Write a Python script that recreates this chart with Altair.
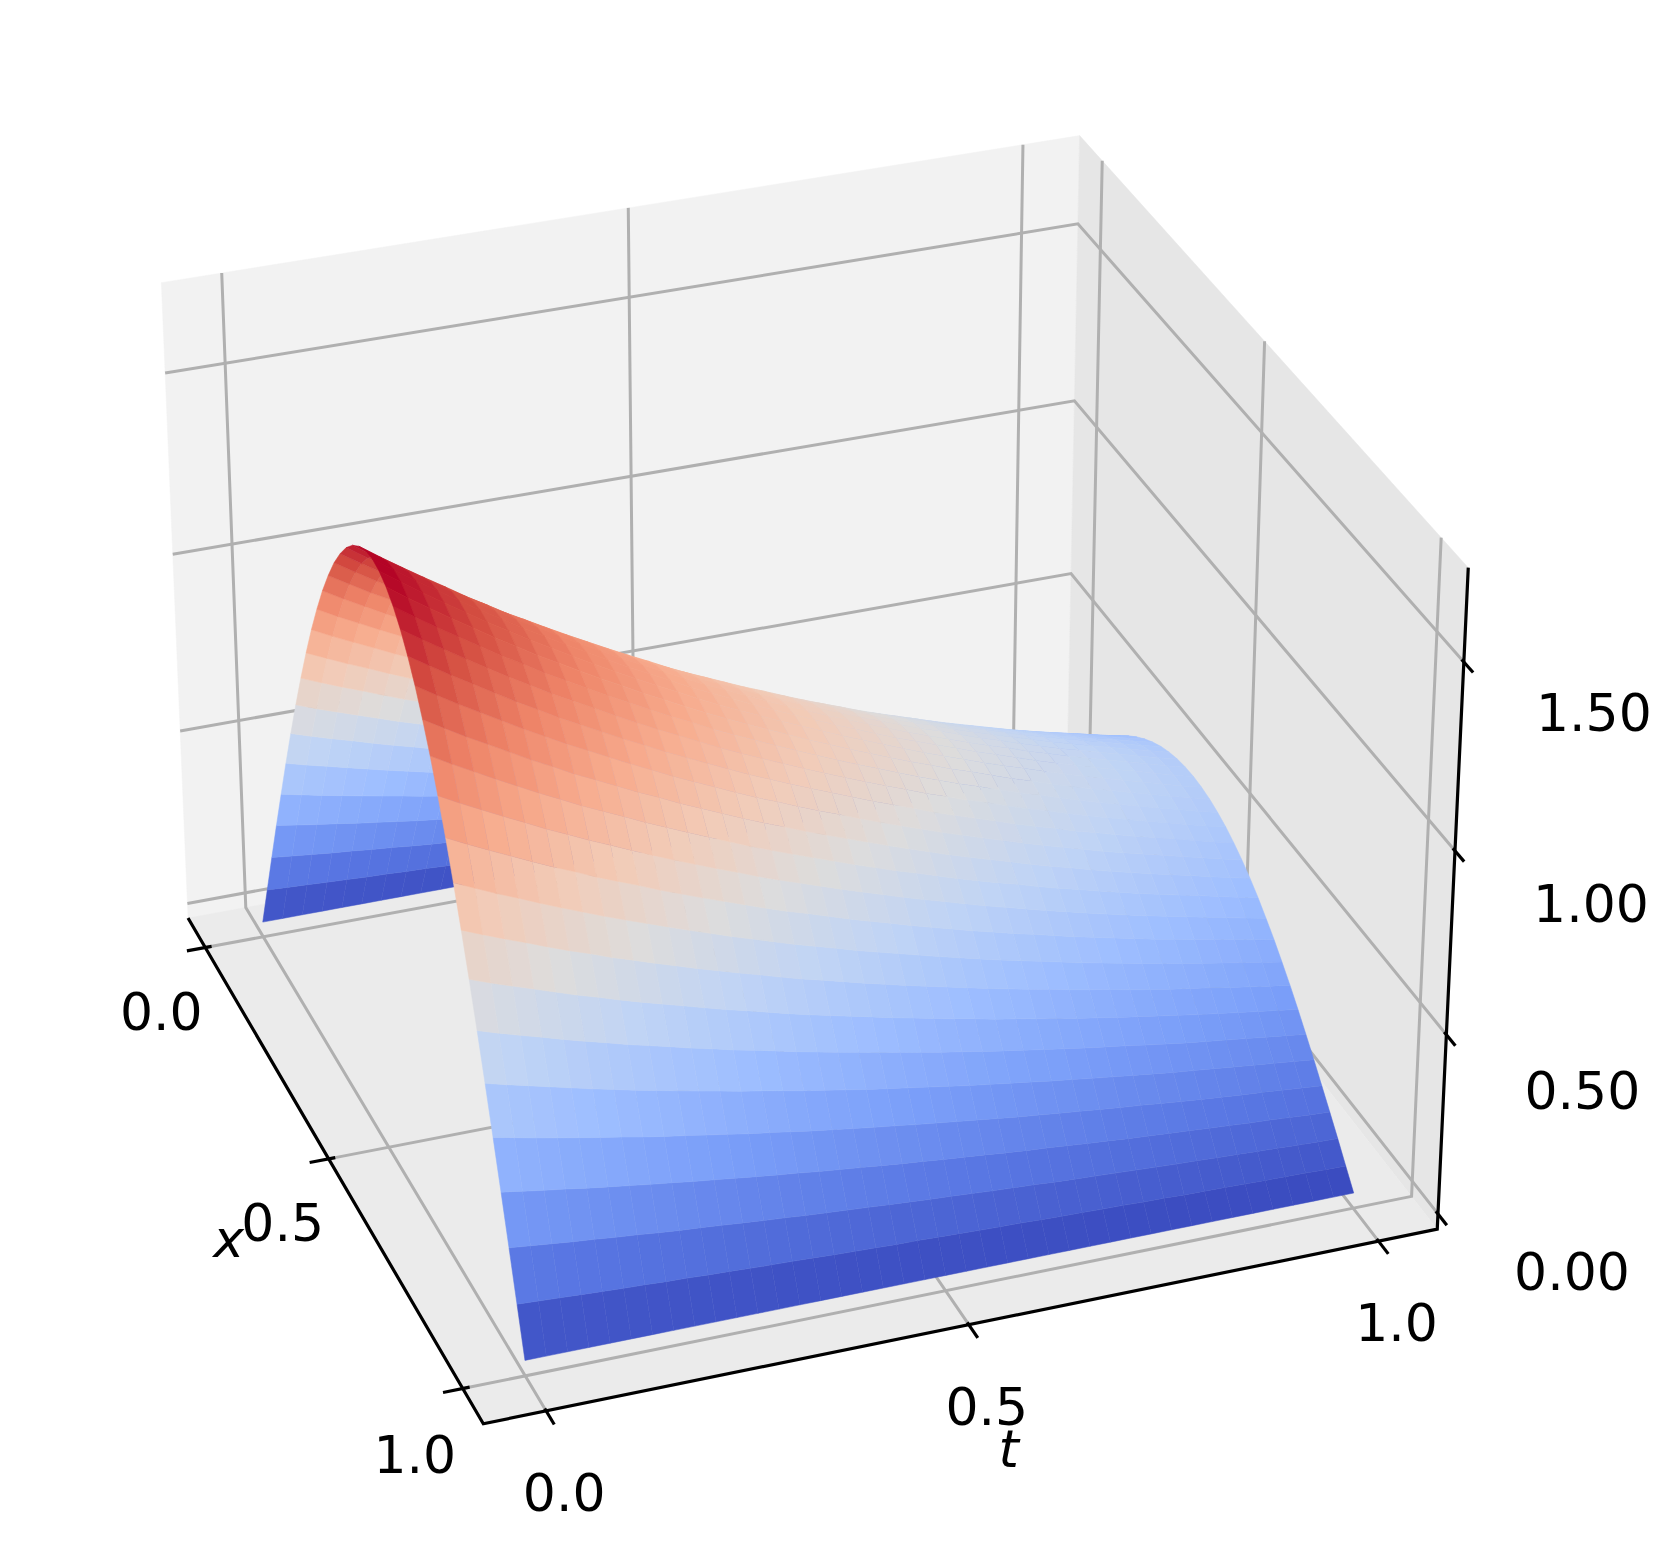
import altair as alt
import numpy as np
import pandas as pd

# ---- data ----
x_grid = [i / 40 for i in range(41)]
t_grid = [j / 40 for j in range(41)]
half_rows = [
    [0]*41,
    [123,120,117,114,111,108,106,103,101,98,96,93,91,89,87,84,82,80,78,77,75,73,71,69,68,66,64,63,61,60,58,57,55,54,53,51,50,49,48,46,45],
    [246,240,234,228,223,217,212,206,201,197,192,187,182,178,173,169,165,161,157,153,149,146,142,138,135,132,128,125,122,119,116,113,110,108,105,103,100,98,95,93,91],
    [367,358,349,341,332,324,316,308,301,293,286,279,272,265,259,252,246,240,234,228,223,217,212,207,201,196,192,187,182,178,173,169,165,161,157,153,149,146,142,138,135],
    [485,473,461,450,439,428,418,407,397,388,378,369,359,351,342,333,325,317,309,302,294,287,280,273,266,259,253,247,241,235,229,224,218,212,207,202,197,193,188,183,178],
    [601,586,572,558,544,530,517,504,492,480,468,457,445,435,424,413,403,393,383,374,365,356,347,338,330,322,314,306,299,291,284,277,270,263,257,251,245,239,233,227,221],
    [713,695,678,662,645,629,614,598,584,570,555,542,528,516,503,490,478,466,455,443,433,422,411,401,391,381,372,363,354,345,337,329,320,312,304,297,290,283,276,269,262],
    [821,800,781,762,743,724,707,689,672,656,640,624,608,594,579,564,550,537,524,511,498,486,474,462,451,439,429,418,408,397,388,378,369,360,351,342,334,326,318,310,302],
    [923,900,878,857,835,814,795,774,756,737,719,701,684,667,651,634,618,604,589,574,560,546,533,520,507,494,482,470,459,447,436,426,414,404,394,385,376,366,357,348,340],
    [1020,995,970,947,923,900,878,856,835,815,795,775,756,737,719,701,683,667,651,634,619,604,589,574,560,546,532,519,507,494,481,470,458,447,436,425,415,405,395,385,375],
    [1111,1083,1057,1031,1005,980,957,932,910,888,865,844,823,803,783,763,744,727,709,691,674,658,641,625,610,594,580,565,552,538,524,512,499,487,474,463,452,441,430,419,409],
    [1194,1164,1136,1108,1081,1053,1028,1002,978,954,930,907,885,863,842,820,800,781,762,743,725,707,689,672,656,639,623,608,593,578,564,550,536,523,510,498,486,474,462,450,439],
    [1271,1239,1209,1179,1150,1121,1094,1066,1041,1016,990,966,942,919,896,873,852,831,811,791,771,752,733,716,698,680,663,647,632,615,600,586,571,557,543,530,517,505,492,479,468],
    [1339,1306,1273,1243,1212,1181,1153,1123,1097,1070,1043,1018,992,968,944,920,897,876,854,833,813,793,773,754,735,716,699,682,665,648,632,617,601,586,572,558,545,532,518,505,493],
    [1400,1365,1331,1299,1267,1235,1205,1175,1147,1119,1091,1064,1037,1012,987,962,938,916,893,871,850,829,808,788,769,749,731,713,696,678,661,645,629,613,598,584,570,556,542,528,515],
    [1451,1415,1380,1347,1313,1280,1249,1217,1188,1159,1130,1103,1075,1049,1023,997,972,949,926,903,881,859,837,817,797,776,757,739,721,702,685,669,651,636,620,605,591,576,562,547,534],
    [1494,1457,1421,1386,1352,1318,1286,1253,1224,1194,1164,1135,1107,1080,1053,1026,1001,977,953,929,907,884,862,841,820,799,780,760,743,723,705,689,671,654,638,623,608,593,578,563,550],
    [1527,1489,1452,1417,1382,1347,1315,1281,1251,1220,1190,1161,1132,1104,1077,1049,1023,999,974,950,927,904,881,860,838,817,797,777,759,739,721,704,686,669,652,637,621,606,591,576,562],
    [1551,1512,1475,1439,1404,1368,1335,1301,1270,1239,1208,1179,1149,1121,1093,1066,1039,1014,990,965,941,918,895,873,851,830,810,789,771,751,732,715,696,679,662,647,631,616,600,585,571],
    [1566,1527,1489,1453,1417,1381,1348,1314,1283,1251,1220,1190,1160,1132,1104,1076,1049,1024,999,974,951,927,904,882,860,838,817,797,778,758,739,722,703,686,669,653,637,622,606,590,576],
    [1571,1532,1494,1458,1422,1386,1353,1318,1287,1255,1224,1194,1164,1136,1108,1079,1053,1027,1002,977,954,930,906,884,862,840,820,800,781,760,742,724,705,688,671,655,639,624,608,592,578],
]
u_rows = half_rows + half_rows[-2::-1]
x_ticks = [0.0, 0.5, 1.0]
t_ticks = [0.0, 0.5, 1.0]
z_ticks = [0.0, 0.5, 1.0, 1.5]
z_labels = ["0.00", "0.50", "1.00", "1.50"]
coolwarm = ['#3b4cc0','#5977e3','#7b9ff9','#9ebeff','#c0d4f5','#dddcdc','#f2cbb7','#f7ac8e','#ee8468','#d44e41','#b40426']

# ---- camera: pinhole fitted to the box corners and ticks ----
xa, xb, ta, tb, za, zb = -0.073, 1.073, -0.073, 1.073, -0.043, 1.745
camera_fit = [
    ((xa,ta,za),(188,917)), ((xb,ta,za),(483,1424)), ((xb,tb,za),(1438,1228)),
    ((xb,tb,zb),(1468,567)), ((xa,tb,zb),(1080,136)), ((xa,ta,zb),(162,283)),
    ((0,ta,za),(205,947)), ((1,ta,za),(463,1388)), ((xb,0,za),(545,1408)), ((xb,1,za),(1377,1237)),
    ((xb,tb,0),(1439,1213)), ((xb,tb,.5),(1447,1038)), ((xb,tb,1),(1455,853)), ((xb,tb,1.5),(1464,662)),
    ((xa,ta,.5),(180,731)), ((xa,tb,.5),(1070,574)), ((xa,ta,1),(173,553)), ((xa,tb,1),(1075,400)),
    ((xa,ta,1.5),(166,371)), ((xa,tb,1.5),(1078,222)), ((xa,0,zb),(221,274)), ((xa,1,zb),(1022,145)),
    ((0,tb,zb),(1102,162)), ((1,tb,zb),(1441,537)),
    ((0,0,0),(263,924)), ((1,0,0),(525,1362)), ((1,1,0),(1354,1194)),
    ((0,0,0),(263,924)), ((1,0,0),(525,1362)), ((1,1,0),(1354,1194)),
]
rows = []
for (X, T, Z), (u, v) in camera_fit:
    rows.append([X,T,Z,1,0,0,0,0,-u*X,-u*T,-u*Z,-u])
    rows.append([0,0,0,0,X,T,Z,1,-v*X,-v*T,-v*Z,-v])
P = np.linalg.svd(np.array(rows, float))[2][-1].reshape(3, 4)
C = np.linalg.svd(P)[2][-1]
C = C[:3] / C[3]

def project(X, T, Z):
    h = P @ np.array([X, T, Z, 1.0])
    return float(h[0] / h[2]), float(h[1] / h[2])

def path(rows_out, pid, pts, **extra):
    for k, p in enumerate(pts):
        sx, sy = project(*p)
        rows_out.append(dict(id=pid, k=k, sx=round(sx, 2), sy=round(sy, 2), **extra))

# surface cells, back to front; each cell is coloured by the mean of its corners
cells = []
for i in range(len(x_grid) - 1):
    for j in range(len(t_grid) - 1):
        corners = [(x_grid[i+a], t_grid[j+b], u_rows[i+a][j+b] / 1000) for a, b in [(0,0),(0,1),(1,1),(1,0)]]
        c = np.mean(corners, axis=0)
        cells.append((float(np.linalg.norm(c - C)), corners, float(c[2])))
cells.sort(key=lambda c: -c[0])
surf = []
for n, (_, corners, v) in enumerate(cells):
    path(surf, n, corners, v=round(v, 4))
v_min = min(c[2] for c in cells)
v_max = max(c[2] for c in cells)

pane_back, pane_side, pane_floor = [], [], []
path(pane_back, 0, [(xa,ta,za),(xa,tb,za),(xa,tb,zb),(xa,ta,zb)])
path(pane_side, 1, [(xa,tb,za),(xb,tb,za),(xb,tb,zb),(xa,tb,zb)])
path(pane_floor, 2, [(xa,ta,za),(xb,ta,za),(xb,tb,za),(xa,tb,za)])

grid = []
n = 0
for v in x_ticks:
    path(grid, n, [(v,ta,za),(v,tb,za),(v,tb,zb)]); n += 1
for v in t_ticks:
    path(grid, n, [(xb,v,za),(xa,v,za),(xa,v,zb)]); n += 1
for v in z_ticks:
    path(grid, n, [(xa,ta,v),(xa,tb,v),(xb,tb,v)]); n += 1

axes = []
path(axes, 0, [(xa,ta,za),(xb,ta,za),(xb,tb,za),(xb,tb,zb)])
n = 1
for v in x_ticks:
    path(axes, n, [(v,ta-0.023,za),(v,ta+0.008,za)]); n += 1
for v in t_ticks:
    path(axes, n, [(xb-0.005,v,za),(xb+0.028,v,za)]); n += 1
for v in z_ticks:
    path(axes, n, [(xb-0.006,tb,v),(xb+0.025,tb,v)]); n += 1

def labels(items):
    out = []
    for p, s in items:
        sx, sy = project(*p)
        out.append(dict(sx=sx, sy=sy, s=s))
    return pd.DataFrame(out)

W, H = 1645, 1531
X_ENC = alt.X("sx:Q", axis=None, scale=alt.Scale(domain=[8, 8 + W], range=[0, W], nice=False, zero=False))
Y_ENC = alt.Y("sy:Q", axis=None, scale=alt.Scale(domain=[8, 8 + H], range=[0, H], nice=False, zero=False))

def lines(rows_out, **mk):
    return alt.Chart(pd.DataFrame(rows_out)).mark_line(clip=False, **mk).encode(x=X_ENC, y=Y_ENC, detail="id:N", order="k:Q")

def pane(rows_out, colour):
    return alt.Chart(pd.DataFrame(rows_out)).mark_line(
        filled=True, interpolate="linear-closed", fill=colour, stroke=colour, strokeWidth=0.5
    ).encode(x=X_ENC, y=Y_ENC, detail="id:N", order="k:Q")

grid_layer = lines(grid, color="#b0b0b0", strokeWidth=3.0, strokeJoin="miter")
axis_layer = lines(axes, color="#000000", strokeWidth=3.2, strokeJoin="miter")
color_scale = alt.Scale(domain=[v_min + (v_max - v_min) * k / 10 for k in range(11)], range=coolwarm, interpolate="rgb")
surf_layer = alt.Chart(pd.DataFrame(surf)).mark_line(filled=True, interpolate="linear-closed", strokeWidth=0.5).encode(
    x=X_ENC, y=Y_ENC, detail="id:N", order="k:Q",
    fill=alt.Fill("v:Q", scale=color_scale, legend=None),
    stroke=alt.Stroke("v:Q", scale=color_scale, legend=None))

def text_layer(df, dx, dy, **kw):
    return alt.Chart(df).mark_text(font="DejaVu Sans", fontSize=52, color="#000000", align="center",
                                   baseline="middle", dx=dx, dy=dy, **kw).encode(x=X_ENC, y=Y_ENC, text="s:N")

z_offsets = [(134, 60), (136, 58), (136, 55), (130, 53)]
x_offsets = [(-44, 66), (-46, 66), (-48, 68)]
text_layers = [
    text_layer(labels([((v, ta, za), f"{v:.1f}")]), o[0], o[1]) for v, o in zip(x_ticks, x_offsets)
] + [
    text_layer(labels([((xb, v, za), f"{v:.1f}")]), 18, 84) for v in t_ticks
] + [
    text_layer(labels([((xb, tb, v), s)]), o[0], o[1]) for v, s, o in zip(z_ticks, z_labels, z_offsets)
] + [
    text_layer(labels([((0.5, ta, za), "x")]), -100, 82, fontStyle="italic"),
    text_layer(labels([((xb, 0.5, za), "t")]), 40, 126, fontStyle="italic"),
]

chart = alt.layer(
    pane(pane_back, "#f2f2f2"), pane(pane_side, "#e6e6e6"), pane(pane_floor, "#ebebeb"),
    grid_layer, axis_layer, surf_layer, *text_layers
).properties(
    width=W, height=H, padding=0, background="white",
    autosize=alt.AutoSizeParams(type="none", contains="content")
).configure_view(stroke=None)

chart.save("out.html", embed_options={"renderer": "svg", "actions": False})
